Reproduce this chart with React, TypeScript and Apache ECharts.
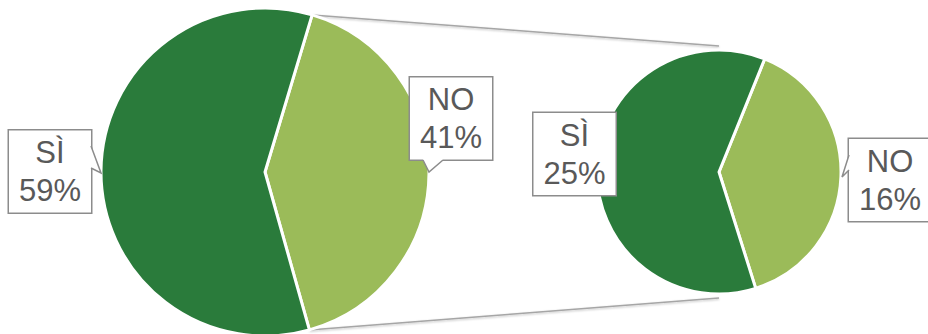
import React, { useEffect, useRef } from "react";
import * as echarts from "echarts";

const categories = ["NO", "SÌ"];
const mainValues = [41, 59];
const subValues = [16, 25];

const LIGHT = "#9bbb59";
const DARK = "#2a7b3b";
const TEXT = "#595959";
const BOX_BORDER = "#8c8c8c";

const mainPie = { cx: 265, cy: 172, r: 164, start: 73.3 };
const subPie = { cx: 719, cy: 172, r: 122, start: 68 };

// label box centres [series][dataIndex] (layout only)
const labelCenters = [
  [[451, 118.5], [50, 171.5]],
  [[890, 180], [574.5, 154]],
];

// callout pointers: base1, tip, base2, inward direction
const pointers = [
  { b1: [91, 146], tip: [101, 173], b2: [91, 168], inw: [-1, 0] },
  { b1: [423, 160], tip: [429, 172], b2: [443, 160], inw: [0, -1] },
  { b1: [849, 155], tip: [842, 177], b2: [849, 170], inw: [1, 0] },
];

export default function App() {
  const ref = useRef<HTMLDivElement>(null);
  useEffect(() => {
    if (!ref.current) return;
    const chart = echarts.init(ref.current, undefined, { renderer: "svg" });
    const colors = [LIGHT, DARK];
    const total = mainValues.reduce((a, b) => a + b, 0);
    const a1 = (mainPie.start * Math.PI) / 180;
    const a2 = ((mainPie.start - (360 * mainValues[0]) / total) * Math.PI) / 180;
    const p1 = [mainPie.cx + mainPie.r * Math.cos(a1), mainPie.cy - mainPie.r * Math.sin(a1)];
    const p2 = [mainPie.cx + mainPie.r * Math.cos(a2), mainPie.cy - mainPie.r * Math.sin(a2)];
    const q1 = [subPie.cx, subPie.cy - subPie.r - 4];
    const q2 = [subPie.cx, subPie.cy + subPie.r + 4];

    const label = {
      show: true,
      formatter: (p: any) => `${p.name}\n${p.value}%`,
      fontFamily: "Liberation Sans, Arial, sans-serif",
      fontSize: 31,
      lineHeight: 38,
      color: TEXT,
      backgroundColor: "#ffffff",
      borderColor: BOX_BORDER,
      borderWidth: 1.5,
      padding: [3, 5],
      width: 72,
      height: 76,
      align: "center",
    };

    const mkSeries = (pie: any, values: number[], si: number) => ({
      type: "pie",
      center: [pie.cx, pie.cy],
      radius: pie.r,
      startAngle: pie.start,
      clockwise: true,
      silent: true,
      avoidLabelOverlap: false,
      z: 2,
      data: categories.map((c, i) => ({ name: c, value: values[i], itemStyle: { color: colors[i] } })),
      itemStyle: { borderColor: "#ffffff", borderWidth: 3 },
      label,
      labelLine: { show: false },
      labelLayout: (params: any) => {
        const c = labelCenters[si][params.dataIndex];
        return { x: c[0], y: c[1], align: "center", verticalAlign: "middle" };
      },
      emphasis: { disabled: true },
    });

    const lineStyle = { stroke: "#a6a6a6", lineWidth: 1.5, shadowBlur: 2, shadowColor: "rgba(0,0,0,0.25)", shadowOffsetY: 1 };
    const graphics: any[] = [
      { type: "line", z: 0, shape: { x1: p1[0], y1: p1[1], x2: q1[0], y2: q1[1] }, style: lineStyle },
      { type: "line", z: 0, shape: { x1: p2[0], y1: p2[1], x2: q2[0], y2: q2[1] }, style: lineStyle },
    ];
    pointers.forEach((pt) => {
      const b1in = [pt.b1[0] + pt.inw[0] * 2, pt.b1[1] + pt.inw[1] * 2];
      const b2in = [pt.b2[0] + pt.inw[0] * 2, pt.b2[1] + pt.inw[1] * 2];
      graphics.push({
        type: "polygon",
        z: 200,
        shape: { points: [b1in, pt.b1, pt.tip, pt.b2, b2in] },
        style: { fill: "#ffffff", stroke: null },
      });
      graphics.push({
        type: "polyline",
        z: 201,
        shape: { points: [pt.b1, pt.tip, pt.b2] },
        style: { stroke: BOX_BORDER, lineWidth: 1.5, fill: null },
      });
    });

    chart.setOption({
      animation: false,
      backgroundColor: "#ffffff",
      series: [mkSeries(mainPie, mainValues, 0), mkSeries(subPie, subValues, 1)],
      graphic: graphics,
    });
    return () => chart.dispose();
  }, []);
  return (
    <div
      ref={ref}
      style={{ position: "fixed", left: 0, top: 0, width: 928, height: 334 }}
    />
  );
}
